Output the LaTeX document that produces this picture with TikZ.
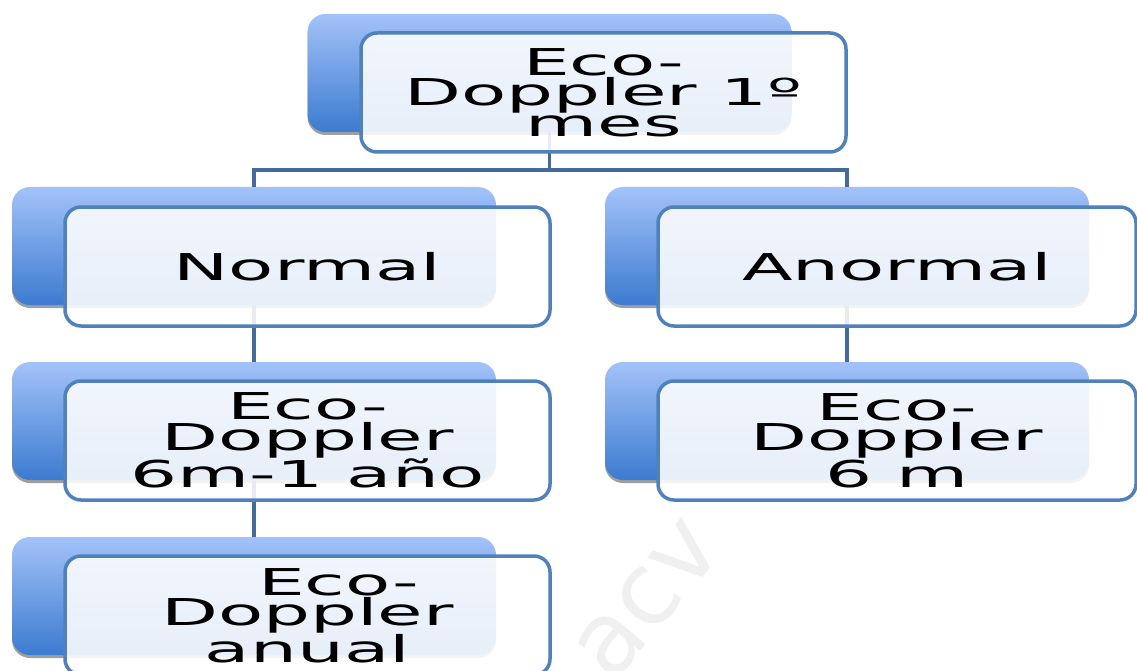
\documentclass[tikz,border=0pt]{standalone}
\usepackage{fontspec}
\newfontfamily\boxfont[FakeStretch=2.0]{DejaVu Sans}
\newfontfamily\wmfont{DejaVu Sans}
\usetikzlibrary{shadows}
\definecolor{bordblue}{HTML}{4F81BD}
\definecolor{connblue}{HTML}{44699B}
\definecolor{toplight}{HTML}{A3C2F9}
\definecolor{botdark}{HTML}{3C7BD0}
\tikzset{
  backbox/.style={rounded corners=18pt, minimum width=484pt, minimum height=118pt, inner sep=0pt,
    top color=toplight, bottom color=botdark, draw=none,
    drop shadow={shadow xshift=0pt, shadow yshift=-3pt, fill=gray!75, opacity=1}},
  frontbox/.style={rounded corners=16pt, draw=bordblue, line width=3.5pt, fill=white, fill opacity=0.88,
    text opacity=1, minimum width=485pt, minimum height=119pt, inner sep=0pt, align=center,
    font=\boxfont\fontsize{37}{30.5}\selectfont},
  conn/.style={draw=connblue, line width=3.5pt},
}
\begin{document}
\begin{tikzpicture}[x=1pt,y=-1pt]
\useasboundingbox[fill=white] (0,0) rectangle (1137,671);
% back boxes
\node[backbox] (b0) at (549.5,73) {};
\node[backbox] (b1) at (254,246) {};
\node[backbox] (b2) at (847,246) {};
\node[backbox] (b3) at (254,421) {};
\node[backbox] (b4) at (847,421) {};
\node[backbox] (b5) at (254,596) {};
% connectors
\coordinate (j) at (549.5,170);
\draw[conn] (b0.south) -- (j);
\draw[conn] (b1.north) |- (j) -| (b2.north);
\draw[conn] (b1.south) -- (b3.north);
\draw[conn] (b2.south) -- (b4.north);
\draw[conn] (b3.south) -- (b5.north);
% watermark
\node[rotate=50, text=gray!12, font=\wmfont\fontsize{100}{100}\selectfont] (wm) at (648,600) {acv};
% front boxes
\node[frontbox] (f0) at (603.5,92.5) {Eco-\\Doppler 1º\\mes};
\node[frontbox] (f1) at (307.5,266.5) {Normal};
\node[frontbox, minimum width=478pt] (f2) at (897,266.5) {Anormal};
\node[frontbox] (f3) at (307.5,440.5) {Eco-\\Doppler\\6m-1 año};
\node[frontbox, minimum width=478pt] (f4) at (897,440.5) {Eco-\\Doppler\\6 m};
\node[frontbox] (f5) at (307.5,615.5) {\hspace*{62pt}Eco-\\Doppler\\anual};
\end{tikzpicture}
\end{document}
